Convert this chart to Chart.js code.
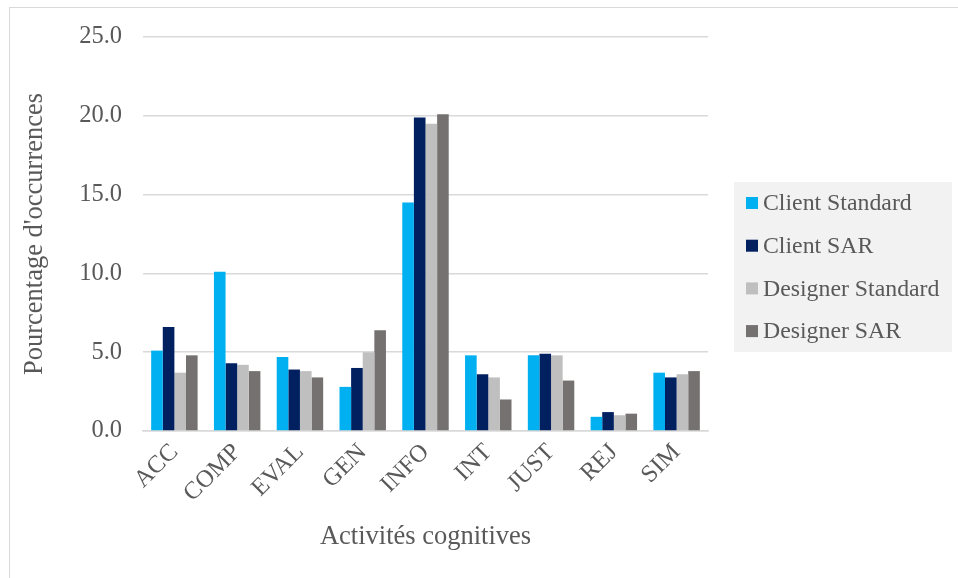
<!DOCTYPE html>
<html>
<head>
<meta charset="utf-8">
<script src="https://cdn.jsdelivr.net/npm/chart.js@4/dist/chart.umd.min.js"></script>
<style>
  html, body { margin: 0; padding: 0; background: #ffffff; overflow: hidden; }
  #wrap { position: relative; width: 958px; height: 578px; }
  #frame { position: absolute; left: 9px; top: 7px; width: 2000px; height: 2000px;
           border: 1.5px solid #d9d9d9; pointer-events: none; }
  canvas { position: absolute; left: 0; top: 0; }
</style>
</head>
<body>
<div id="wrap">
  <canvas id="c" width="958" height="578"></canvas>
  <div id="frame"></div>
</div>
<script>
const categories = ['ACC', 'COMP', 'EVAL', 'GEN', 'INFO', 'INT', 'JUST', 'REJ', 'SIM'];
const seriesNames = ['Client Standard', 'Client SAR', 'Designer Standard', 'Designer SAR'];
const clientStandard   = [5.1, 10.1, 4.7, 2.8, 14.5, 4.8, 4.8, 0.9, 3.7];
const clientSAR        = [6.6, 4.3, 3.9, 4.0, 19.9, 3.6, 4.9, 1.2, 3.4];
const designerStandard = [3.7, 4.2, 3.8, 5.0, 19.5, 3.4, 4.8, 1.0, 3.6];
const designerSAR      = [4.8, 3.8, 3.4, 6.4, 20.1, 2.0, 3.2, 1.1, 3.8];
const yTicks = [0, 5, 10, 15, 20, 25];
const colors = ['#00B0F0', '#002060', '#BFBFBF', '#767171'];

const FONT = "'Liberation Serif', 'Times New Roman', serif";
const TEXT = '#595959';

const legendPlugin = {
  id: 'boxLegend',
  afterDraw(chart) {
    const ctx = chart.ctx;
    ctx.save();
    ctx.fillStyle = '#f2f2f2';
    ctx.fillRect(734, 182, 218, 170);
    ctx.font = '23.8px ' + FONT;
    ctx.textBaseline = 'middle';
    ctx.textAlign = 'left';
    chart.data.datasets.forEach((ds, i) => {
      const cy = 203 + i * 42.7;
      ctx.fillStyle = ds.backgroundColor;
      ctx.fillRect(746, cy - 6, 12, 12);
      ctx.fillStyle = TEXT;
      ctx.fillText(ds.label, 763, cy + 1);
    });
    ctx.restore();
  }
};

new Chart(document.getElementById('c'), {
  type: 'bar',
  data: {
    labels: categories,
    datasets: [
      { label: seriesNames[0], data: clientStandard, backgroundColor: colors[0] },
      { label: seriesNames[1], data: clientSAR, backgroundColor: colors[1] },
      { label: seriesNames[2], data: designerStandard, backgroundColor: colors[2] },
      { label: seriesNames[3], data: designerSAR, backgroundColor: colors[3] }
    ]
  },
  options: {
    responsive: false,
    animation: false,
    devicePixelRatio: 1,
    layout: { padding: { top: 37, right: 250, bottom: 0, left: 0 } },
    datasets: { bar: { categoryPercentage: 0.74, barPercentage: 1.0, borderWidth: 0 } },
    plugins: {
      legend: { display: false },
      tooltip: { enabled: false }
    },
    scales: {
      x: {
        grid: { display: false, drawTicks: false },
        border: { display: true, color: '#d9d9d9', width: 1.5 },
        ticks: {
          color: TEXT, font: { family: FONT, size: 24.5 },
          maxRotation: 45, minRotation: 45, padding: 7, autoSkip: false
        },
        title: {
          display: true, text: 'Activités cognitives', color: TEXT,
          font: { family: FONT, size: 26.5 }, padding: { top: 0, bottom: 25 }
        },
        afterFit(scale) { scale.height = 147; }
      },
      y: {
        min: 0, max: 25,
        afterBuildTicks(scale) { scale.ticks = yTicks.map(v => ({ value: v })); },
        grid: { color: '#d9d9d9', lineWidth: 1.5, drawTicks: false },
        border: { display: false },
        ticks: {
          color: TEXT, font: { family: FONT, size: 24.5 }, padding: 21,
          callback: v => Number(v).toFixed(1)
        },
        title: {
          display: true, text: "Pourcentage d'occurrences", color: TEXT,
          font: { family: FONT, size: 26.5 }, padding: { top: 19, bottom: 0 }
        },
        afterFit(scale) { scale.width = 143; }
      }
    }
  },
  plugins: [legendPlugin]
});
</script>
</body>
</html>
